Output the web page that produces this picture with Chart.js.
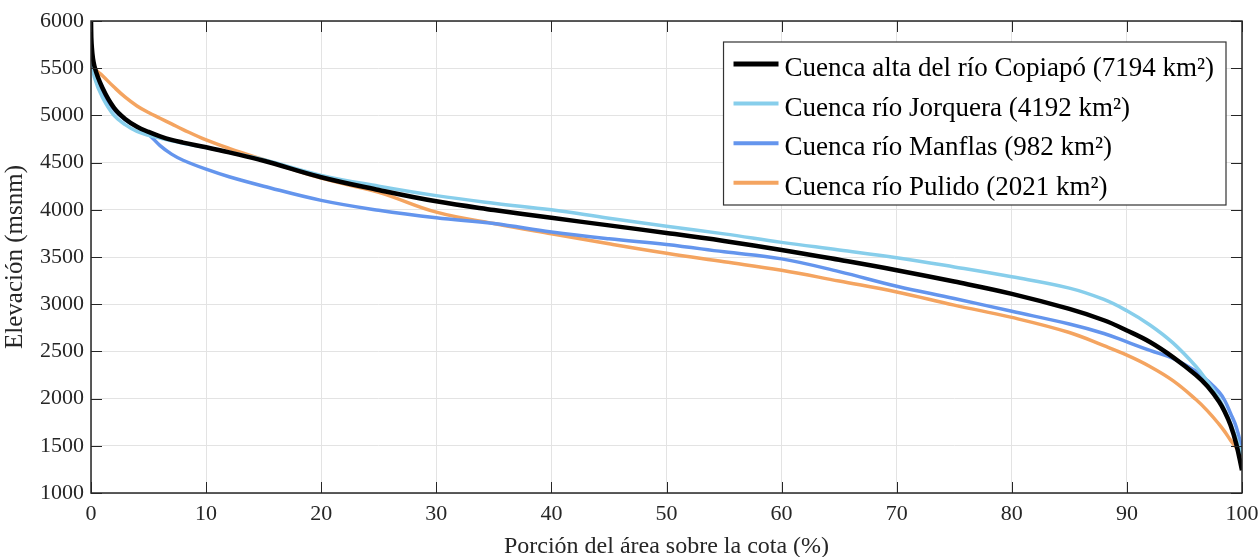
<!DOCTYPE html>
<html lang="es">
<head>
<meta charset="UTF-8">
<title>Curvas hipsométricas</title>
<script src="https://cdn.jsdelivr.net/npm/chart.js"></script>
<style>
    html, body { margin: 0; padding: 0; background: #fff; }
    #wrap { width: 1260px; height: 557px; }
</style>
</head>
<body>
<div id="wrap"><canvas id="hypso" width="1260" height="557"></canvas></div>
<script>
    // porción del área sobre la cota (%)
    const pct = [0, 0.05, 0.3, 1, 2, 3, 4, 5, 6, 7, 8, 10, 12, 15, 20, 25, 30, 35, 40, 45, 50,
                 55, 60, 65, 70, 75, 80, 85, 88, 90, 92, 94, 96, 97, 98, 98.5, 99, 99.5, 100];

    // elevación (msnm)
    const copiapo  = [6000, 5760, 5520, 5290, 5080, 4960, 4880, 4825, 4778, 4740, 4712, 4662, 4608, 4520, 4345, 4210, 4090, 3998, 3915, 3835, 3755,
                      3670, 3575, 3470, 3360, 3240, 3110, 2950, 2830, 2722, 2600, 2440, 2250, 2130, 1970, 1860, 1720, 1520, 1240];
    const jorquera = [5700, 5600, 5400, 5190, 5000, 4900, 4830, 4790, 4760, 4730, 4705, 4660, 4610, 4530, 4365, 4250, 4150, 4070, 4000, 3910, 3826,
                      3745, 3655, 3575, 3493, 3395, 3290, 3170, 3050, 2930, 2780, 2590, 2340, 2180, 2000, 1880, 1740, 1580, 1400];
    const manflas  = [5700, 5620, 5470, 5240, 5060, 4950, 4880, 4800, 4680, 4590, 4525, 4430, 4350, 4250, 4100, 3995, 3915, 3855, 3765, 3693, 3632,
                      3555, 3480, 3345, 3190, 3060, 2925, 2790, 2690, 2600, 2510, 2425, 2290, 2190, 2070, 1980, 1845, 1700, 1470];
    const pulido   = [5700, 5620, 5500, 5420, 5300, 5190, 5100, 5030, 4970, 4910, 4850, 4740, 4650, 4530, 4335, 4185, 3975, 3855, 3746, 3640, 3540,
                      3450, 3359, 3245, 3130, 2990, 2860, 2700, 2560, 2460, 2340, 2190, 1990, 1870, 1730, 1650, 1560, 1480, 1390];

    const names = ['Cuenca alta del río Copiapó (7194 km²)', 'Cuenca río Jorquera (4192 km²)',
                   'Cuenca río Manflas (982 km²)', 'Cuenca río Pulido (2021 km²)'];
    const series = [copiapo, jorquera, manflas, pulido];
    const colors = ['#000000', '#87CEEB', '#6495ED', '#F4A460'];
    const widths = [4.5, 3.5, 3.5, 3.5];

    const serif = '"Liberation Serif", "Times New Roman", serif';

    // marco con ticks hacia adentro
    const frame = {
        id: 'frame',
        afterDatasetsDraw(chart) {
            const { ctx, chartArea: a, scales } = chart;
            ctx.save();
            ctx.strokeStyle = '#262626';
            ctx.lineWidth = 1;
            ctx.beginPath();
            scales.x.ticks.forEach(t => {
                const px = Math.round(scales.x.getPixelForValue(t.value)) + 0.5;
                ctx.moveTo(px, a.bottom); ctx.lineTo(px, a.bottom - 11);
                ctx.moveTo(px, a.top); ctx.lineTo(px, a.top + 11);
            });
            scales.y.ticks.forEach(t => {
                const py = Math.round(scales.y.getPixelForValue(t.value)) + 0.5;
                ctx.moveTo(a.left, py); ctx.lineTo(a.left + 11, py);
                ctx.moveTo(a.right, py); ctx.lineTo(a.right - 11, py);
            });
            ctx.stroke();
            ctx.lineWidth = 1.5;
            ctx.strokeRect(a.left, a.top, a.right - a.left, a.bottom - a.top);
            ctx.restore();
        }
    };

    // leyenda dentro del área
    const boxLegend = {
        id: 'boxLegend',
        afterDraw(chart) {
            const { ctx, chartArea: a } = chart;
            ctx.save();
            ctx.font = '27px ' + serif;
            const textW = Math.max(...names.map(n => ctx.measureText(n).width));
            const w = 10 + 45 + 6 + textW + 12;
            const h = 163;
            const x0 = a.right - 16 - w, y0 = a.top + 21;
            ctx.fillStyle = '#fff';
            ctx.fillRect(x0, y0, w, h);
            ctx.strokeStyle = '#333';
            ctx.lineWidth = 1.2;
            ctx.strokeRect(x0, y0, w, h);
            ctx.textBaseline = 'middle';
            names.forEach((n, i) => {
                const cy = y0 + 22 + i * 39.6;
                ctx.strokeStyle = colors[i];
                ctx.lineWidth = i === 0 ? 5 : 4;
                ctx.beginPath();
                ctx.moveTo(x0 + 10, cy);
                ctx.lineTo(x0 + 55, cy);
                ctx.stroke();
                ctx.fillStyle = '#000';
                ctx.fillText(n, x0 + 61, cy + 5);
            });
            ctx.restore();
        }
    };

    new Chart(document.getElementById('hypso'), {
        type: 'scatter',
        data: {
            datasets: series.map((s, i) => ({
                label: names[i],
                data: pct.map((p, j) => ({ x: p, y: s[j] })),
                borderColor: colors[i],
                backgroundColor: colors[i],
                borderWidth: widths[i],
                showLine: true,
                pointRadius: 0,
                tension: 0.4
            }))
        },
        options: {
            responsive: false,
            animation: false,
            layout: { padding: { top: 21, right: 18, left: 0, bottom: 0 } },
            plugins: { legend: { display: false }, tooltip: { enabled: false } },
            scales: {
                x: {
                    type: 'linear', min: 0, max: 100,
                    ticks: { stepSize: 10, color: '#262626', font: { family: serif, size: 22 }, padding: 8, maxRotation: 0,
                             callback: v => String(v) },
                    grid: { color: '#e3e3e3', drawTicks: false },
                    border: { display: false },
                    title: { display: true, text: 'Porción del área sobre la cota (%)', color: '#262626',
                             font: { family: serif, size: 24 }, padding: { top: 0, bottom: -4 } },
                    afterFit(s) { s.height = 64; s.paddingLeft = 0; s.paddingRight = 0; }
                },
                y: {
                    min: 1000, max: 6000,
                    ticks: { stepSize: 500, color: '#262626', font: { family: serif, size: 22 }, padding: 7,
                             callback: v => String(v) },
                    grid: { color: '#e3e3e3', drawTicks: false },
                    border: { display: false },
                    title: { display: true, text: 'Elevación (msnm)', color: '#262626',
                             font: { family: serif, size: 25 }, padding: { top: 0, bottom: 2 } },
                    afterFit(s) { s.width = 91; s.paddingTop = 0; s.paddingBottom = 0; }
                }
            }
        },
        plugins: [frame, boxLegend]
    });
</script>
</body>
</html>
